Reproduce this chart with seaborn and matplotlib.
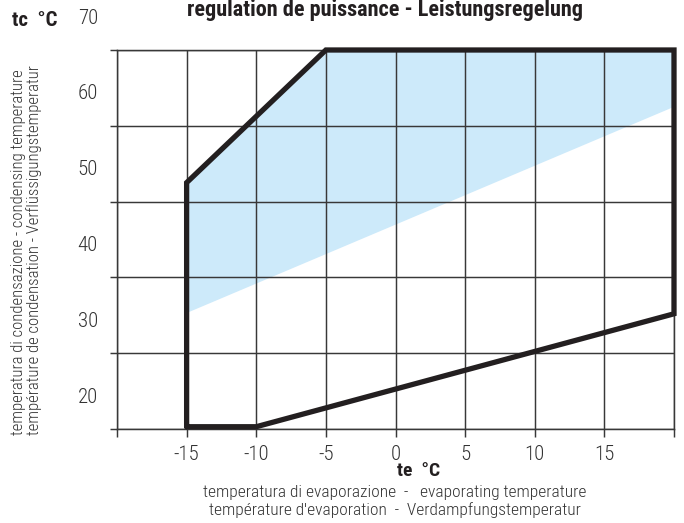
import matplotlib
matplotlib.use('Agg')
import matplotlib.pyplot as plt
import seaborn as sns
import pandas as pd

# envelope (te, tc) in degC
te_env = [-15, -10, 20, 20, -5, -15, -15]
tc_env = [15.3, 15.3, 30.2, 65, 65, 47.5, 15.3]

# capacity regulation zone
te_reg = [-15, -15, -5, 20, 20]
tc_reg = [30.3, 47.5, 65, 65, 57.5]

x_grid = [-20, -15, -10, -5, 0, 5, 10, 15, 20]
x_labels = ['', '-15', '-10', '-5', '0', '5', '10', '15', '']
y_grid = [15, 25, 35, 45, 55, 65]
y_labels = [20, 30, 40, 50, 60, 70]

sns.set_style('ticks')
plt.rcParams['font.family'] = ['Roboto Condensed', 'DejaVu Sans']

line_col = '#231f20'
grid_col = '#383838'
text_col = '#333333'

fig = plt.figure(figsize=(6.84, 5.23), dpi=100)
ax = fig.add_axes([117 / 684, 1 - 429 / 523, 557 / 684, 379 / 523])

ax.fill(te_reg, tc_reg, color='#cdeafa', lw=0, zorder=0.2)

env = pd.DataFrame({'te': te_env, 'tc': tc_env})
sns.lineplot(data=env, x='te', y='tc', sort=False, estimator=None, ax=ax,
             color=line_col, lw=3.8, clip_on=False, zorder=5,
             solid_joinstyle='miter')

ax.set_xlim(-20, 20)
ax.set_ylim(15, 65)
ax.set_xticks(x_grid)
ax.set_xticklabels(x_labels, fontweight='light')
ax.set_yticks(y_grid)
ax.set_yticklabels([''] * len(y_grid))
ax.set_axisbelow(True)
ax.grid(True, color=grid_col, lw=1.05)
for s in ax.spines.values():
    s.set_color(grid_col)
    s.set_linewidth(1.05)
ax.tick_params(axis='x', direction='out', length=5.8, width=1.05, color=grid_col,
               pad=5.5, labelsize=15, labelcolor=text_col)
ax.tick_params(axis='y', direction='out', length=5, width=1.05, color=grid_col)
ax.set_xlabel('')
ax.set_ylabel('')

# y labels sit between the grid lines
for v in y_labels:
    ax.annotate(str(v), xy=(0, v), xycoords=ax.get_yaxis_transform(),
                xytext=(-13.7, -4.3), textcoords='offset points',
                ha='right', va='center', fontsize=15, fontweight='light',
                color=text_col, annotation_clip=False)

fig.text(385 / 684, 1 - 16 / 523, 'regulation de puissance - Leistungsregelung',
         ha='center', va='baseline', fontsize=16, weight='bold', color=line_col)
fig.text(12 / 684, 1 - 26 / 523, 'tc  °C', ha='left', va='baseline',
         fontsize=15, weight='bold', color=line_col)
fig.text(419 / 684, 1 - 471 / 523, 'te  °C', ha='center', va='center',
         fontsize=14, weight='bold', color=line_col)

fig.text(395 / 684, 1 - 492 / 523,
         'temperatura di evaporazione  -   evaporating temperature',
         ha='center', va='center', fontsize=12.5, fontweight='light', color=text_col)
fig.text(395 / 684, 1 - 510 / 523,
         "température d'evaporation  -  Verdampfungstemperatur",
         ha='center', va='center', fontsize=12.5, fontweight='light', color=text_col)

fig.text(19 / 684, 1 - 435 / 523,
         'temperatura di condensazione - condensing temperature',
         rotation=90, ha='center', va='bottom', fontsize=12, fontweight='light',
         color=text_col)
fig.text(34 / 684, 1 - 435 / 523,
         'température de condensation - Verflüssigungstemperatur',
         rotation=90, ha='center', va='bottom', fontsize=12, fontweight='light',
         color=text_col)

fig.savefig('out.png', dpi=100)
